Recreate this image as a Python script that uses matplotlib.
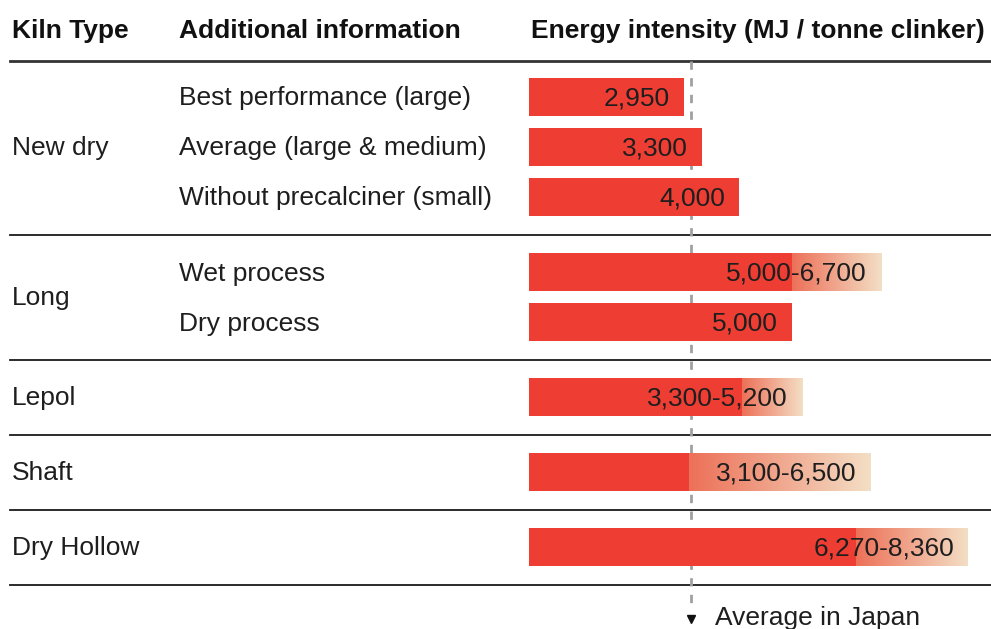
import numpy as np
import matplotlib
matplotlib.use("Agg")
import matplotlib.pyplot as plt
from matplotlib.transforms import blended_transform_factory
from matplotlib.colors import LinearSegmentedColormap

plt.rcParams['font.family'] = ['Liberation Sans', 'DejaVu Sans']

#%% Data
kiln_types = ["New dry", "Long", "Lepol", "Shaft", "Dry Hollow"]
group_sizes = [3, 2, 1, 1, 1]
row_info = ["Best performance (large)", "Average (large & medium)",
            "Without precalciner (small)", "Wet process", "Dry process",
            "", "", ""]
low_values = [2950, 3300, 4000, 5000, 5000, 3300, 3100, 6270]
high_values = [2950, 3300, 4000, 6700, 5000, 5200, 6500, 8360]
solid_end = [2950, 3300, 4000, 5000, 5000, 4050, 3050, 6230]
value_labels = ["2,950", "3,300", "4,000", "5,000-6,700", "5,000",
                "3,300-5,200", "3,100-6,500", "6,270-8,360"]
japan_average = 3080

#%% Layout (pixel rows, top-down)
W, H = 991, 629
row_step, group_gap = 50, 25
y_rows = []
y = 97
for g, n in enumerate(group_sizes):
    for i in range(n):
        y_rows.append(y)
        y += row_step
    y += group_gap
y_rows = np.array(y_rows, dtype=float)

fig = plt.figure(figsize=(W / 100, H / 100), dpi=100)
ax = fig.add_axes([529 / W, 0, 1 - 529 / W, 1])
ax.axis("off")

red = "#ee3e34"
fade = LinearSegmentedColormap.from_list("fade", ["#ed7058", "#f3dfc5"])
grad = np.linspace(0, 1, 256).reshape(1, -1)
bar_h = 38
txt = "#1e1e1e"
fs = 19
dy = 1.5  # text sits a touch lower than the bar centre

for i, yc in enumerate(y_rows):
    ax.barh(yc, solid_end[i], height=bar_h, color=red, zorder=2)
    if high_values[i] > solid_end[i]:
        ax.imshow(grad, cmap=fade, aspect="auto", interpolation="bilinear",
                  extent=(solid_end[i], high_values[i], yc + bar_h / 2, yc - bar_h / 2),
                  zorder=2)
    ax.annotate(value_labels[i], (high_values[i], yc + dy), xytext=(-14, 0),
                textcoords="offset pixels", ha="right", va="center",
                fontsize=fs, color=txt, zorder=4)
ax.set_xlim(0, (W - 529) / 0.0525)
ax.set_ylim(H, 0)

# left columns
tr = blended_transform_factory(fig.transFigure, ax.transData)
k = 0
sep_y = []
for g, n in enumerate(group_sizes):
    ys = y_rows[k:k + n]
    ax.text(12 / W, ys.mean() + dy, kiln_types[g], transform=tr, ha="left",
            va="center", fontsize=fs, color=txt, clip_on=False)
    for j in range(n):
        if row_info[k + j]:
            ax.text(179 / W, ys[j] + dy, row_info[k + j], transform=tr, ha="left",
                    va="center", fontsize=fs, color=txt, clip_on=False)
    sep_y.append(ys[-1] + (row_step + group_gap) / 2)
    k += n

# separators
for s in sep_y:
    ax.plot([10 / W, 1], [s, s], transform=tr, color="#1a1a1a", lw=1.3,
            clip_on=False, zorder=1)
header_line = y_rows[0] - 36
ax.plot([10 / W, 1], [header_line, header_line], transform=tr, color="#333333",
        lw=2, clip_on=False, zorder=1)

# headers
hy = 31
for hx, label in [(12, "Kiln Type"), (179, "Additional information"),
                  (531, "Energy intensity (MJ / tonne clinker)")]:
    ax.text(hx / W, hy, label, transform=tr, ha="left", va="center",
            fontsize=fs, fontweight="bold", color="#111111", clip_on=False)

# japan average
ax.plot([japan_average, japan_average], [header_line, sep_y[-1] + 24],
        color="#a0a0a0", lw=2, ls=(0, (3, 3)), zorder=1.5)
ax.plot(japan_average, sep_y[-1] + 34, marker="v", color="#111111",
        markersize=6, zorder=3)
ax.annotate("Average in Japan", (japan_average, sep_y[-1] + 34), xytext=(24, 0),
            textcoords="offset pixels", ha="left", va="center", fontsize=fs,
            color=txt, annotation_clip=False)

fig.savefig("out.png", dpi=100)
